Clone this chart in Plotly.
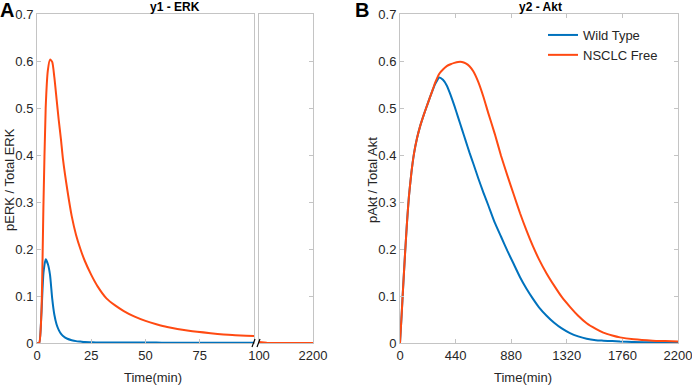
import plotly.graph_objects as go

# ---------------- data ----------------
erk_t = [0, 1, 2, 3, 4, 5, 6, 7, 8, 9, 10, 11, 12, 14, 16, 18, 20, 22, 25, 28, 32, 36, 40, 45, 50, 55, 60, 70, 80, 90, 100]
erk_nsclc = [0, 0.0, 0.06, 0.30, 0.50, 0.58, 0.603, 0.598, 0.565, 0.52, 0.475, 0.435, 0.39, 0.325, 0.27, 0.23, 0.20, 0.175, 0.145, 0.12, 0.095, 0.08, 0.068, 0.056, 0.047, 0.040, 0.034, 0.026, 0.021, 0.017, 0.015]
erk_wt = [0, 0.0, 0.06, 0.15, 0.178, 0.168, 0.145, 0.095, 0.06, 0.04, 0.028, 0.02, 0.015, 0.009, 0.006, 0.004, 0.003, 0.002, 0.0015, 0.001, 0.001, 0.001, 0.001, 0.001, 0.001, 0.0008, 0.0006, 0.0005, 0.0004, 0.0003, 0.0003]

erk_t_late = [100, 200, 400, 800, 1200, 1600, 2000, 2200]
erk_nsclc_late = [0.002, 0.001, 0.0005, 0.0002, 0.0001, 0.0, 0.0, 0.0]
erk_wt_late = [0.0002, 0.0001, 0.0, 0.0, 0.0, 0.0, 0.0, 0.0]

akt_t = [0, 13, 25, 40, 55, 70, 90, 110, 135, 160, 190, 220, 250, 264, 280, 311, 340, 370, 400, 430,
         460, 490, 520, 550, 580, 620, 660, 700, 750, 800, 850, 900, 950, 1000, 1050, 1100, 1160,
         1220, 1280, 1345, 1410, 1477, 1550, 1609, 1680, 1741, 1850, 2000, 2100, 2200]
akt_nsclc = [0, 0.06, 0.12, 0.19, 0.255, 0.31, 0.362, 0.402, 0.436, 0.462, 0.487, 0.51, 0.532, 0.543, 0.555, 0.573, 0.582, 0.589,
             0.593, 0.596, 0.598, 0.598, 0.595, 0.589, 0.578, 0.555, 0.524, 0.488, 0.445, 0.398, 0.356, 0.316,
             0.276, 0.24, 0.207, 0.178, 0.148, 0.122, 0.098, 0.077, 0.058, 0.042, 0.03, 0.022, 0.016, 0.012,
             0.008, 0.005, 0.004, 0.003]
akt_wt = [0, 0.06, 0.12, 0.19, 0.255, 0.31, 0.362, 0.402, 0.436, 0.462, 0.487, 0.51, 0.532, 0.542, 0.552, 0.565, 0.56, 0.548,
          0.528, 0.505, 0.48, 0.455, 0.43, 0.405, 0.382, 0.35, 0.32, 0.292, 0.256, 0.226, 0.196, 0.168,
          0.14, 0.116, 0.095, 0.076, 0.058, 0.043, 0.031, 0.021, 0.014, 0.009, 0.006, 0.005, 0.004, 0.003,
          0.002, 0.0015, 0.001, 0.001]

y_ticks = [0, 0.1, 0.2, 0.3, 0.4, 0.5, 0.6, 0.7]
y_tick_labels = ["0", "0.1", "0.2", "0.3", "0.4", "0.5", "0.6", "0.7"]
erk_x_ticks = [0, 25, 50, 75]
erk_x_ticks_late = [100, 2200]
akt_x_ticks = [0, 440, 880, 1320, 1760, 2200]

series_names = ["Wild Type", "NSCLC Free"]
BLUE = "#0072BD"
RED = "#FF4A12"

# ---------------- layout helpers ----------------
W, H = 692, 386
def px(x):
    return x / W
def py(y):
    return 1 - y / H

TOP, BOT = 14, 343
FONT = "Liberation Sans, Arial, Helvetica, sans-serif"
AX = "#c4c4c4"
TXT = "#262626"

fig = go.Figure()
lw = 2
def ln(c, s=0.6):
    return dict(color=c, width=lw, shape="spline", smoothing=s)
fig.add_trace(go.Scatter(x=erk_t, y=erk_wt, mode="lines", line=ln(BLUE),
                         xaxis="x", yaxis="y", showlegend=False))
fig.add_trace(go.Scatter(x=erk_t, y=erk_nsclc, mode="lines", line=ln(RED),
                         xaxis="x", yaxis="y", showlegend=False))
fig.add_trace(go.Scatter(x=erk_t_late, y=erk_wt_late, mode="lines", line=dict(color=BLUE, width=lw),
                         xaxis="x2", yaxis="y2", showlegend=False))
fig.add_trace(go.Scatter(x=erk_t_late, y=erk_nsclc_late, mode="lines", line=dict(color=RED, width=lw),
                         xaxis="x2", yaxis="y2", showlegend=False))
fig.add_trace(go.Scatter(x=akt_t, y=akt_wt, mode="lines", line=ln(BLUE, 0.5),
                         xaxis="x3", yaxis="y3", name=series_names[0]))
fig.add_trace(go.Scatter(x=akt_t, y=akt_nsclc, mode="lines", line=ln(RED, 0.5),
                         xaxis="x3", yaxis="y3", name=series_names[1]))

ydom = [py(BOT), py(TOP)]
tickfont = dict(family=FONT, size=13, color=TXT)
common_x = dict(showline=True, linecolor=AX, linewidth=1, ticks="inside", ticklen=4,
                tickcolor=AX, showgrid=False, zeroline=False, tickfont=tickfont, automargin=False,
                ticklabeloverflow="allow")
common_y = dict(showline=True, linecolor=AX, linewidth=1, ticks="inside", ticklen=4,
                tickcolor=AX, showgrid=False, zeroline=False, tickfont=tickfont, automargin=False,
                ticklabeloverflow="allow",
                range=[0, 0.7], tickvals=y_ticks, ticktext=y_tick_labels)

fig.update_layout(
    width=W, height=H, margin=dict(l=0, r=0, t=0, b=0, autoexpand=False),
    paper_bgcolor="white", plot_bgcolor="white",
    font=dict(family=FONT, color=TXT),
    xaxis=dict(common_x, domain=[px(37), px(254)], range=[0, 100], tickvals=erk_x_ticks,
               mirror=True, anchor="y"),
    yaxis=dict(common_y, domain=ydom, anchor="x", mirror=True),
    xaxis2=dict(common_x, domain=[px(259), px(313)], range=[100, 2200], tickvals=erk_x_ticks_late,
                ticks="", mirror=True, anchor="y2"),
    yaxis2=dict(common_y, domain=ydom, anchor="x2", side="right", showticklabels=False,
                mirror=True),
    xaxis3=dict(common_x, domain=[px(400), px(678)], range=[0, 2200], tickvals=akt_x_ticks,
                mirror="ticks", anchor="y3"),
    yaxis3=dict(common_y, domain=ydom, anchor="x3", mirror="ticks"),
    legend=dict(x=px(543), y=py(20), xanchor="left", yanchor="top", bgcolor="rgba(0,0,0,0)",
                font=dict(family=FONT, size=13, color=TXT), tracegroupgap=0, itemwidth=30),
)

ann = []
def text(x, y, s, size=13, bold=False, angle=0, xanchor="center"):
    ann.append(dict(x=px(x), y=py(y), xref="paper", yref="paper", text=f"<b>{s}</b>" if bold else s,
                    showarrow=False, font=dict(family=FONT, size=size, color="black" if bold else TXT),
                    textangle=angle, xanchor=xanchor, yanchor="middle"))

text(175, 7, "y1 - ERK", size=12, bold=True)
text(540, 7, "y2 - Akt", size=12, bold=True)
text(7, 10, "A", size=20, bold=True)
text(362, 10, "B", size=20, bold=True)
text(153, 377, "Time(min)")
text(523, 377, "Time(min)")
text(9, 180, "pERK / Total ERK", angle=-90)
text(372, 180, "pAkt / Total Akt", angle=-90)
fig.update_layout(annotations=ann)

# break marks on the left panel x axis
shapes = []
for x0 in (252, 257):
    shapes.append(dict(type="line", xref="paper", yref="paper", x0=px(x0), y0=py(BOT + 4),
                       x1=px(x0 + 3), y1=py(BOT - 4), line=dict(color="black", width=1.2)))
fig.update_layout(shapes=shapes)

fig.write_html("out.html", config={"displayModeBar": False},
               post_script=["document.body.style.margin='0';document.body.style.overflow='hidden';"])
